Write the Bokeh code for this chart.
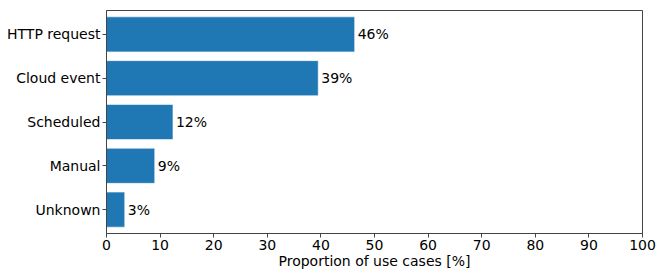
from bokeh.plotting import figure
from bokeh.models import Range1d, FixedTicker, ColumnDataSource
from bokeh.embed import file_html
from bokeh.resources import INLINE
from bokeh.core.properties import value

categories = ["HTTP request", "Cloud event", "Scheduled", "Manual", "Unknown"]
values = [46.3, 39.5, 12.4, 9.0, 3.4]
labels = ["46%", "39%", "12%", "9%", "3%"]
x_ticks = [0, 10, 20, 30, 40, 50, 60, 70, 80, 90, 100]

ypos = list(range(len(categories)))
src = ColumnDataSource(dict(y=ypos, v=values, lab=labels, cat=categories))

FONT = "DejaVu Sans"
FS = "14px"

p = figure(width=664, height=277, output_backend="svg", toolbar_location=None,
           x_range=Range1d(0, 100), y_range=Range1d(4.545, -0.545),
           min_border_left=106, min_border_right=22, min_border_top=10, min_border_bottom=44)

p.hbar(y="y", right="v", left=0, height=0.8, source=src,
       fill_color="#1f77b4", line_color="white", line_alpha=0.55, line_width=1)
p.text(x="v", y="y", text="lab", source=src, x_offset=3, text_baseline="middle",
       text_align="left", text_font=value(FONT), text_font_size=FS, text_color="black")

p.xgrid.visible = False
p.ygrid.visible = False
p.outline_line_color = "#444444"
p.outline_line_width = 1

p.xaxis.ticker = FixedTicker(ticks=x_ticks)
p.xaxis.minor_tick_line_color = None
p.xaxis.axis_label = "Proportion of use cases [%]"
p.yaxis.ticker = FixedTicker(ticks=ypos)
p.yaxis.major_label_overrides = {i: c for i, c in enumerate(categories)}
p.yaxis.minor_tick_line_color = None

for ax in (p.xaxis[0], p.yaxis[0]):
    ax.axis_line_color = "#444444"
    ax.major_tick_line_color = "#444444"
    ax.major_tick_in = 0
    ax.major_tick_out = 4
    ax.major_label_text_font = FONT
    ax.major_label_text_font_size = FS
    ax.major_label_text_color = "black"
    ax.axis_label_text_font = FONT
    ax.axis_label_text_font_size = FS
    ax.axis_label_text_font_style = "normal"
    ax.axis_label_text_color = "black"
    ax.major_label_standoff = 2

p.xaxis.axis_label_standoff = 0

open("out.html", "w").write(file_html(p, INLINE))
